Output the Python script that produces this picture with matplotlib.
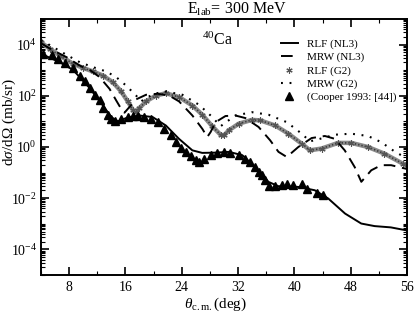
import numpy as np
import matplotlib
matplotlib.use("Agg")
import matplotlib.pyplot as plt
from matplotlib.ticker import LogLocator, LogFormatterMathtext, MultipleLocator, NullFormatter
from matplotlib.lines import Line2D

plt.rcParams['font.family'] = ['Liberation Serif', 'DejaVu Serif']
plt.rcParams['mathtext.fontset'] = 'custom'
plt.rcParams['mathtext.rm'] = 'Liberation Serif'
plt.rcParams['mathtext.it'] = 'Liberation Serif:italic'
plt.rcParams['mathtext.bf'] = 'Liberation Serif:bold'

# ---- data (theta in deg, log10 of cross section in mb/sr) ----
rlf_nl3_x = [4.0, 6.68, 8.56, 10.92, 12.8, 13.98, 14.9, 16.1, 17.98, 19.86, 21.74, 23.6, 25.5,
             26.9, 28.8, 30.7, 32.6, 34.4, 36.3, 37.7, 40.6, 42.9, 44.8, 47.2, 49.5, 51.4, 53.7, 56.0]
rlf_nl3_log = [3.64, 3.31, 3.01, 2.30, 1.62, 1.17, 1.00, 1.13, 1.23, 1.17, 0.84, 0.32, -0.13,
               -0.23, -0.22, -0.19, -0.32, -0.78, -1.36, -1.53, -1.56, -1.69, -2.01, -2.60, -2.99,
               -3.09, -3.14, -3.26]

mrw_nl3_x = [4.0, 5.74, 7.62, 9.51, 10.92, 12.33, 13.74, 14.68, 15.39, 15.86, 16.56, 17.51, 18.92,
             20.56, 22.21, 23.62, 25.51, 26.92, 27.62, 28.09, 28.80, 30.21, 31.62, 33.04, 34.92,
             36.56, 37.74, 38.92, 40.56, 42.45, 44.33, 45.74, 47.15, 48.56, 49.51, 50.92, 52.33,
             53.74, 56.0]
mrw_nl3_log = [4.05, 3.77, 3.51, 3.18, 3.01, 2.73, 2.27, 1.82, 1.49, 1.34, 1.56, 1.86, 2.04,
               2.08, 2.01, 1.78, 1.23, 0.71, 0.39, 0.58, 0.97, 1.21, 1.23, 1.13, 0.78,
               0.26, -0.19, -0.39, 0.00, 0.35, 0.43, 0.32, -0.13, -0.78, -1.36, -0.91, -0.71,
               -0.71, -0.86]

rlf_g2_x = [4.0, 5.27, 6.68, 8.56, 9.98, 11.39, 12.80, 14.21, 15.39, 16.33, 17.04, 17.51, 17.98,
            18.92, 20.33, 21.74, 23.62, 25.51, 26.92, 28.33, 29.51, 29.98, 30.68, 32.09, 33.98,
            35.15, 37.27, 39.15, 41.04, 42.21, 43.86, 46.21, 48.09, 50.45, 52.80, 55.39, 56.0]
rlf_g2_log = [4.09, 3.83, 3.57, 3.25, 3.09, 2.95, 2.79, 2.53, 2.17, 1.78, 1.45, 1.36, 1.52,
              1.78, 2.01, 2.10, 1.95, 1.62, 1.26, 0.81, 0.48, 0.45, 0.65, 0.91, 1.06,
              1.04, 0.84, 0.52, 0.13, -0.13, -0.06, 0.16, 0.16, 0.00, -0.26, -0.65, -0.70]

mrw_g2_x = [4.0, 5.74, 7.62, 9.51, 11.39, 13.27, 14.68, 16.09, 17.51, 18.21, 18.92, 20.09, 21.74,
            24.09, 26.45, 28.33, 29.51, 30.45, 31.62, 33.98, 36.33, 38.92, 41.04, 42.21, 43.39,
            45.74, 48.09, 50.45, 52.33, 54.21, 56.0]
mrw_g2_log = [4.18, 3.90, 3.60, 3.31, 3.12, 2.95, 2.73, 2.40, 2.01, 1.78, 1.91, 2.08, 2.17,
              2.04, 1.65, 1.17, 0.81, 1.00, 1.23, 1.36, 1.26, 0.97, 0.52, 0.22, 0.30,
              0.48, 0.52, 0.43, 0.19, -0.17, -0.45]

exp_x = [4.33, 5.51, 6.45, 7.39, 8.56, 9.51, 10.21, 10.92, 11.62, 12.33, 12.80, 13.51, 13.98,
         14.45, 15.39, 16.33, 17.04, 17.74, 18.68, 19.62, 20.56, 21.51, 22.45, 23.15, 23.86,
         24.56, 25.27, 25.98, 26.45, 27.15, 28.09, 29.04, 29.98, 30.92, 32.09, 33.04, 33.74,
         34.45, 34.92, 35.39, 35.86, 36.33, 37.27, 38.21, 38.92, 39.86, 41.04, 41.74, 43.15, 44.09]
exp_log = [3.64, 3.60, 3.42, 3.27, 3.08, 2.79, 2.56, 2.30, 2.04, 1.82, 1.52, 1.26, 1.08,
           1.00, 1.08, 1.17, 1.23, 1.21, 1.17, 1.10, 0.97, 0.71, 0.45, 0.19, -0.03,
           -0.19, -0.36, -0.52, -0.58, -0.45, -0.32, -0.23, -0.19, -0.22, -0.32, -0.48, -0.58,
           -0.78, -0.97, -1.10, -1.30, -1.53, -1.53, -1.49, -1.45, -1.49, -1.45, -1.65, -1.78, -1.88]

labels = ['RLF (NL3)', 'MRW (NL3)', 'RLF (G2)', 'MRW (G2)', '(Cooper 1993: [44])']

fig = plt.figure(figsize=(4.15, 3.14), dpi=100)
ax = fig.add_axes([41/415, 1 - 275/314, 366/415, 256/314])

p = lambda v: 10.0 ** np.asarray(v)

ax.plot(rlf_nl3_x, p(rlf_nl3_log), color='black', lw=1.4, zorder=3)
ax.plot(mrw_nl3_x, p(mrw_nl3_log), color='black', lw=1.4, dashes=(6, 3.5), zorder=3)
# RLF (G2): gray band with asterisks
ax.plot(rlf_g2_x, p(rlf_g2_log), color='#8a8a8a', lw=3.2, zorder=2, solid_capstyle='round')
ax.plot(rlf_g2_x, p(rlf_g2_log), color='#3a3a3a', lw=1.2, dashes=(0.8, 1.2), zorder=2)
ax.plot(rlf_g2_x, p(rlf_g2_log), ls='none', marker=(6, 2, 0), ms=4.5, mew=0.8,
        color='#555555', zorder=2)
ax.plot(mrw_g2_x, p(mrw_g2_log), color='black', lw=1.5, dashes=(0.9, 3.2), zorder=3)
ax.plot(exp_x, p(exp_log), ls='none', marker='^', ms=5.8, color='black', zorder=4)

ax.set_xlim(4, 56)
ax.set_ylim(1e-5, 1e5)
ax.set_yscale('log')
ax.xaxis.set_minor_locator(MultipleLocator(4))
ax.set_xticks([8, 16, 24, 32, 40, 48, 56])
ax.yaxis.set_major_locator(LogLocator(base=100.0))
ax.yaxis.set_major_formatter(LogFormatterMathtext(base=10.0))
ax.yaxis.set_minor_locator(LogLocator(base=10.0, subs=np.arange(1, 10), numticks=100))
ax.yaxis.set_minor_formatter(NullFormatter())
ax.tick_params(which='both', direction='in', top=True, right=True, labelsize=10)
ax.tick_params(which='major', length=6, width=1.2)
ax.tick_params(which='minor', length=3, width=0.8)
ax.tick_params(axis='x', pad=4)
ax.tick_params(axis='y', pad=3)
for s in ax.spines.values():
    s.set_linewidth(1.4)

fig.text(215/415, 1 - 304/314, r'$\theta_{\rm c.m.}$(deg)', ha='center', va='center', fontsize=11)
fig.text(9/415, 1 - 122/314, r'd$\sigma$/d$\Omega$ (mb/sr)', ha='center', va='center',
         rotation=90, fontsize=11)
fig.text(237/415, 1 - 9/314, r'E$_{\rm lab}$= 300 MeV', ha='center', va='center', fontsize=11.5)
ax.text((218 - 41)/366, 1 - (40 - 19)/256, r'$^{40}$Ca', transform=ax.transAxes,
        ha='center', va='center', fontsize=11.5)

handles = [
    Line2D([], [], color='black', lw=1.4),
    Line2D([], [], color='black', lw=1.4, dashes=(6, 3.5)),
    Line2D([], [], ls='none', marker=(6, 2, 0), ms=4.5, mew=0.8, color='#555555'),
    Line2D([], [], color='black', lw=1.5, dashes=(0.9, 3.2)),
    Line2D([], [], ls='none', marker='^', ms=5.8, color='black'),
]
ax.legend(handles, labels, loc='upper left', bbox_to_anchor=((281 - 41)/366, 1 - (39 - 19)/256),
          frameon=False, fontsize=8, handlelength=1.5, handletextpad=0.8, labelspacing=0.3,
          borderpad=0, borderaxespad=0)

fig.savefig('out.png', dpi=100)
